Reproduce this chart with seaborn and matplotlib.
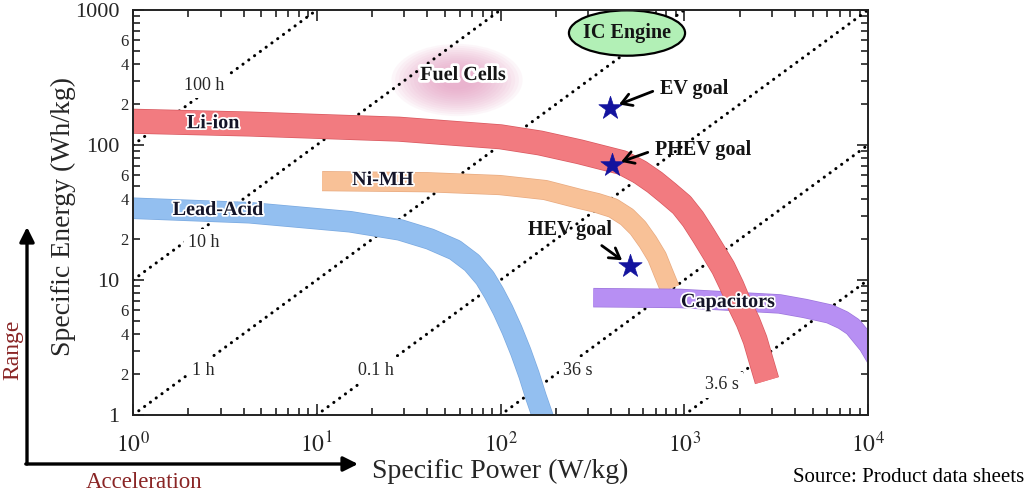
import numpy as np
import pandas as pd
import matplotlib
matplotlib.use("Agg")
import matplotlib.pyplot as plt
import seaborn as sns
import matplotlib.patheffects as pe
from matplotlib.patches import Ellipse, FancyArrowPatch
from matplotlib.ticker import FixedLocator, FuncFormatter, NullFormatter, LogLocator

# ---------------- data ----------------
li_ion_power = [1, 4.3, 28, 100, 164, 270, 348, 460, 574, 690, 816, 970, 1116,
                1270, 1434, 1630, 1819, 2010, 2223, 2430, 2616, 2820]
li_ion_energy = [150, 143, 131, 115, 103.5, 89, 81.5, 74, 63, 53, 44, 36, 28.3,
                 21.5, 16.4, 12.3, 9.0, 6.5, 4.9, 3.6, 2.55, 1.8]

nimh_power = [10.7, 40, 99, 175, 271, 335, 410, 488, 560, 635, 711, 766, 836]
nimh_energy = [54, 53, 50.5, 46.4, 39.8, 37.2, 34.1, 29.3, 24.3, 19.1, 14.8, 11.5, 8.6]

lead_power = [1, 4.3, 15.2, 28.4, 41.3, 56.5, 70, 82.3, 92.2, 103, 115.5, 129,
              143, 156, 170, 176]
lead_energy = [34, 31.5, 27, 23.5, 20.1, 16.7, 13.4, 10.35, 8.0, 6.0, 4.26, 2.93,
               1.98, 1.36, 0.97, 0.85]

cap_power = [320, 950, 3300, 4540, 6200, 7310, 8300, 10000, 12400]
cap_energy = [7.4, 7.3, 6.65, 6.15, 5.6, 5.05, 4.5, 3.3, 2.0]

goal_names = ["EV goal", "PHEV goal", "HEV goal"]
goal_power = [394, 404, 507]
goal_energy = [188, 71, 12.7]

durations_h = [100, 10, 1, 0.1, 0.01, 0.001]
duration_labels = ["100 h", "10 h", "1 h", "0.1 h", "36 s", "3.6 s"]

power_range = [1, 10000]

fuel_cell_center = (58, 303)
ic_engine_center = (488, 675)

# ---------------- style ----------------
sns.set_style("ticks")
plt.rcParams["font.family"] = ["Liberation Serif", "DejaVu Serif"]
plt.rcParams["mathtext.fontset"] = "stix"

fig = plt.figure(figsize=(10.27, 4.95), dpi=100)
ax = fig.add_axes([133 / 1027, 1 - 415 / 495, 735 / 1027, 405 / 495])
ax.set_xscale("log")
ax.set_yscale("log")
ax.set_xlim(1, 1e4)
ax.set_ylim(1, 1000)

# ---------------- constant-duration dotted lines ----------------
for t, lab in zip(durations_h, duration_labels):
    df = pd.DataFrame({"P": power_range, "E": [p * t for p in power_range]})
    sns.lineplot(data=df, x="P", y="E", ax=ax, color="black", lw=2.2,
                 linestyle=(0, (0.05, 2.3)), dash_capstyle="round",
                 sort=False, estimator=None, zorder=1)

duration_label_pos = [(2.43, 278), (2.43, 19.1), (2.40, 2.15), (21.0, 2.15),
                      (264, 2.15), (1605, 1.67)]
for lab, (px, ey) in zip(duration_labels, duration_label_pos):
    ax.text(px, ey, lab, fontsize=13, ha="center", va="center", zorder=1.5,
            bbox=dict(boxstyle="square,pad=0.25", fc="white", ec="none"))

# ---------------- technology bands ----------------
bands = [
    (lead_power, lead_energy, "#93bff0", "#7aa9e0", 14.5, 2.0),
    (nimh_power, nimh_energy, "#f8c197", "#e8aa80", 13.5, 2.1),
    (cap_power, cap_energy, "#b78ff3", "#9d76dc", 13.0, 2.2),
    (li_ion_power, li_ion_energy, "#f27b80", "#d9585f", 17.0, 2.3),
]
for pw, en, col, edge, lw, z in bands:
    df = pd.DataFrame({"P": pw, "E": en})
    sns.lineplot(data=df, x="P", y="E", ax=ax, color=col, lw=lw, sort=False,
                 estimator=None, solid_capstyle="butt", solid_joinstyle="round",
                 zorder=z,
                 path_effects=[pe.Stroke(linewidth=lw + 1.0, foreground=edge,
                                         capstyle="butt", joinstyle="round"),
                               pe.Normal()])

halo = [pe.withStroke(linewidth=2.5, foreground="white")]
band_labels = [("Li-ion", 2.73, 145), ("Lead-Acid", 2.90, 33),
               ("Ni-MH", 22.9, 55), ("Capacitors", 1730, 6.87)]
for lab, px, ey in band_labels:
    ax.text(px, ey, lab, fontsize=14.5, fontweight="bold", ha="center",
            va="center", color="#141428", zorder=5, path_effects=halo)

# ---------------- Fuel cells glow & IC engine ellipse ----------------
fc_ax = ax.transAxes.inverted().transform(ax.transData.transform(fuel_cell_center))
for i in range(14):
    s = 1.05 - i * 0.06
    ax.add_patch(Ellipse(fc_ax, 0.17 * s, 0.17 * s, transform=ax.transAxes,
                         fc="#e596bd", ec="none", alpha=0.08, zorder=0.5))
ax.text(62.5, 330, "Fuel Cells", fontsize=14.5, fontweight="bold", ha="center",
        va="center", color="#141414", zorder=5,
        path_effects=[pe.withStroke(linewidth=4, foreground="white")])

ic_ax = ax.transAxes.inverted().transform(ax.transData.transform(ic_engine_center))
ax.add_patch(Ellipse(ic_ax, 0.158, 0.112, transform=ax.transAxes,
                     fc="#b2f0b6", ec="black", lw=1.6, zorder=4))
ax.text(ic_engine_center[0], ic_engine_center[1], "IC Engine", fontsize=14.5,
        fontweight="bold", ha="center", va="center", color="#141414", zorder=5)

# ---------------- goals ----------------
gdf = pd.DataFrame({"P": goal_power, "E": goal_energy, "goal": goal_names})
sns.scatterplot(data=gdf, x="P", y="E", ax=ax, marker="*", s=310,
                color="#13139e", edgecolor="#13139e", linewidth=0.5, zorder=6,
                legend=False)

goal_offsets = [(36, 14), (31, 11), (-43, 26)]
goal_relpos = [(0, 0.5), (0, 0.5), (0.78, 0.0)]
goal_ha = ["left", "left", "center"]
for name, pw, en, off, rp, ha in zip(goal_names, goal_power, goal_energy,
                                     goal_offsets, goal_relpos, goal_ha):
    ax.annotate(name, xy=(pw, en), xytext=off, textcoords="offset points",
                fontsize=14.5, fontweight="bold", ha=ha, va="center",
                color="#141414", zorder=7,
                arrowprops=dict(arrowstyle="->,head_length=0.5,head_width=0.3",
                                lw=2.0, color="black", shrinkA=3, shrinkB=7,
                                relpos=rp))

# ---------------- axes, ticks ----------------
for sp in ax.spines.values():
    sp.set_linewidth(1.4)
    sp.set_color("#222222")
    sp.set_zorder(8)

ax.xaxis.set_major_locator(FixedLocator([1, 10, 100, 1000, 10000]))
ax.xaxis.set_major_formatter(FuncFormatter(
    lambda v, p: r"$10^{%d}$" % int(round(np.log10(v)))))
ax.xaxis.set_minor_locator(LogLocator(base=10, subs=range(2, 10), numticks=20))
ax.xaxis.set_minor_formatter(NullFormatter())

ax.yaxis.set_major_locator(FixedLocator([1, 10, 100, 1000]))
ax.yaxis.set_major_formatter(FuncFormatter(lambda v, p: f"{v:g}"))
ax.yaxis.set_minor_locator(LogLocator(base=10, subs=range(2, 10), numticks=20))


def minor_fmt(v, p):
    d = int(round(v / 10 ** np.floor(np.log10(v) + 1e-9)))
    return str(d) if d in (2, 4, 6) else ""


ax.yaxis.set_minor_formatter(FuncFormatter(minor_fmt))

ax.tick_params(which="both", top=True, right=True, direction="in",
               color="#222222", width=1.2)
ax.tick_params(which="major", length=8)
ax.tick_params(which="minor", length=5)
ax.tick_params(axis="x", which="major", labelsize=17, pad=12)
ax.tick_params(axis="y", which="major", labelsize=16, pad=10)
ax.tick_params(axis="y", which="minor", labelsize=12, pad=3)

ax.set_xlabel("Specific Power (W/kg)", fontsize=20)
ax.set_ylabel("Specific Energy (Wh/kg)", fontsize=20)
ax.xaxis.set_label_coords(0.5, -0.14)
ax.xaxis.label.set_va("center")
ax.yaxis.set_label_coords(-0.094, 0.49)
ax.yaxis.label.set_va("center")

# ---------------- outer "Range / Acceleration" arrows ----------------
W, H = 1027, 495
fig.add_artist(FancyArrowPatch((27 / W, 1 - 464 / H), (27 / W, 1 - 227 / H),
                               transform=fig.transFigure, arrowstyle="-|>",
                               mutation_scale=22, lw=2.4, color="black",
                               shrinkA=0, shrinkB=0))
fig.add_artist(FancyArrowPatch((25.8 / W, 1 - 464 / H), (358 / W, 1 - 464 / H),
                               transform=fig.transFigure, arrowstyle="-|>",
                               mutation_scale=22, lw=2.4, color="black",
                               shrinkA=0, shrinkB=0))
fig.text(13 / W, 1 - 350 / H, "Range", rotation=90, fontsize=17,
         color="#8a2525", ha="center", va="center")
fig.text(144 / W, 1 - 483 / H, "Acceleration", fontsize=16.5, color="#8a2525",
         ha="center", va="center")
fig.text(1024 / W, 1 - 478 / H, "Source: Product data sheets", fontsize=15,
         color="black", ha="right", va="center")

fig.savefig("out.png", dpi=100)
